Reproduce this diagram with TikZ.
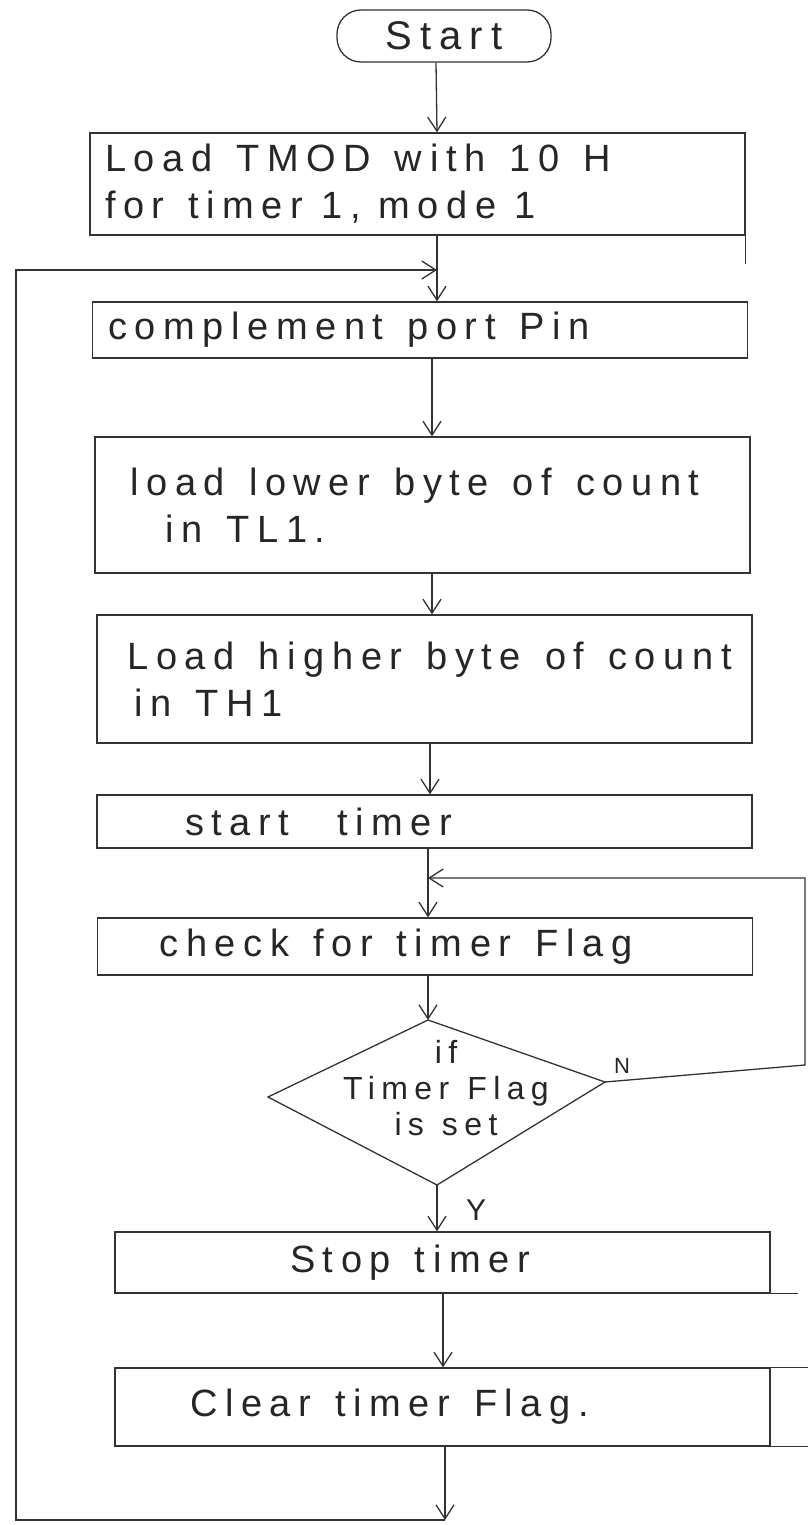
\documentclass[tikz,border=0pt]{standalone}
\usepackage{fontspec}
\setmainfont{Liberation Sans}[LetterSpace=20]
\usetikzlibrary{arrows.meta}
\newcommand\gap{\hspace*{24pt}}
\newcommand\smallgap{\hspace*{18pt}}
\begin{document}
\begin{tikzpicture}[x=1pt,y=-1pt,
  ink/.style={draw=black!80, line width=1.3pt},
  arr/.style={ink, -{Straight Barb[length=14pt,width=18pt]}},
  proc/.style={ink, rectangle, minimum width=655pt, inner sep=0pt,
    font=\fontsize{38}{47}\selectfont, align=left, text=black!85},
  lbl/.style={text=black!85, inner sep=0pt}]
\useasboundingbox (0,0) rectangle (807,1525);

% terminal
\node[ink, rounded corners=24pt, minimum width=214pt, minimum height=52pt,
      font=\fontsize{40}{44}\selectfont, text=black!85] (start) at (444,36) {Start};

% process boxes
\node[proc, minimum height=102pt, text width=625pt] (b1) at (417.5,184)
  {\mbox{Load\gap TMOD\gap with\gap 10\gap H}\\\mbox{for\gap timer\smallgap 1,\smallgap mode\smallgap 1}};
\node[proc, minimum height=56pt, text width=624pt] (b2) at (420,330)
  {\mbox{complement\gap port\gap Pin}};
\node[proc, minimum height=136pt, text width=600pt] (b3) at (422.5,505)
  {\mbox{\hspace*{8pt}load\gap lower\gap byte\gap of\gap count}\\\mbox{\hspace*{43pt}in\gap TL1.}\\[16pt]};
\node[proc, minimum height=128pt, text width=610pt] (b4) at (424.5,679)
  {\mbox{\hspace*{8pt}Load\gap higher\gap byte\gap of\gap count}\\\mbox{\hspace*{15pt}in\gap TH1}\\[12pt]};
\node[proc, minimum height=53pt, text width=479pt] (b5) at (424.5,821.5)
  {\mbox{start\gap\gap timer}};
\node[proc, minimum height=57pt, text width=531pt] (b6) at (425,946.5)
  {\mbox{check\gap for\gap timer\gap Flag}};
\node[proc, minimum height=61pt, text width=305pt] (b7) at (442.5,1262.5)
  {\mbox{Stop\gap timer}};
\node[proc, minimum height=78pt, text width=505pt] (b8) at (442.5,1407)
  {\mbox{Clear\gap timer\gap Flag\hspace*{8pt}.}};

% decision
\coordinate (dt) at (428,1020);
\coordinate (dl) at (268,1097);
\coordinate (dr) at (605,1082);
\coordinate (db) at (437,1185);
\draw[ink] (dt) -- (dr) -- (db) -- (dl) -- cycle;
\node[lbl, font=\fontsize{32}{36}\selectfont, align=center] (dtext) at (446,1088)
  {if\\Timer\smallgap Flag\\is\smallgap set};

% loop points
\coordinate (join1) at (437,270);
\coordinate (loopL) at (16,270);
\coordinate (loopB) at (16,1520);
\coordinate (loopEnd) at (445,1520);
\coordinate (rjoin) at (428,878);
\coordinate (rTop) at (805,878);
\coordinate (rBot) at (805,1065);

% main flow
\draw[arr] ([xshift=-8pt]start.south) -- ([xshift=19.5pt]b1.north);
\draw[arr] ([xshift=19.5pt]b1.south) -- ([xshift=17pt]b2.north);
\draw[arr] ([xshift=12pt]b2.south) -- ([xshift=9.5pt]b3.north);
\draw[arr] ([xshift=9.5pt]b3.south) -- ([xshift=7.5pt]b4.north);
\draw[arr] ([xshift=5.5pt]b4.south) -- ([xshift=5.5pt]b5.north);
\draw[arr] ([xshift=3.5pt]b5.south) -- ([xshift=3pt]b6.north);
\draw[arr] ([xshift=3pt]b6.south) -- (dt);
\draw[arr] (db) -- ([xshift=-5.5pt]b7.north);
\draw[arr] ([xshift=0.5pt]b7.south) -- ([xshift=0.5pt]b8.north);
\draw[arr] ([xshift=2.5pt]b8.south) -- (loopEnd);

% return paths
\draw[arr] (loopEnd) -- (loopB) -- (loopL) -- (join1);
\draw[arr] (dr) -- (rBot) -- (rTop) -- (rjoin);

% branch labels
\node[lbl, font=\fontsize{22}{24}\selectfont] (nlab) at (622,1066) {N};
\node[lbl, font=\fontsize{30}{32}\selectfont] (ylab) at (476,1210) {Y};

% over-drawn box edges
\draw[ink] (b1.south east) -- ++(0,28);
\draw[ink] (b7.south east) -- ++(27,0);
\draw[ink] (b8.north east) -- ++(37,0);
\draw[ink] (b8.south east) -- ++(37,0);
\end{tikzpicture}
\end{document}
